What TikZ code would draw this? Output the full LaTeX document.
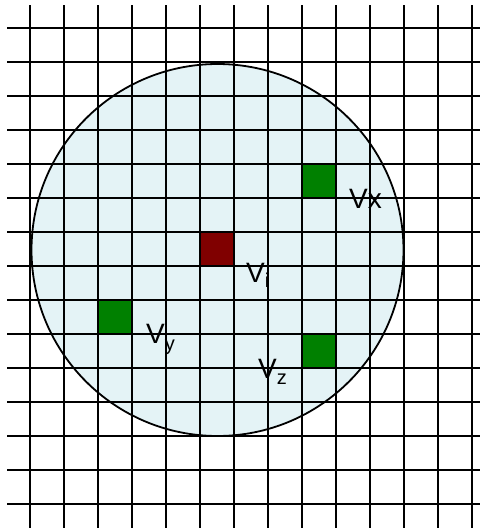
\documentclass[tikz,border=0pt]{standalone}
\usepackage{fontspec}
\setmainfont{Liberation Sans}
\definecolor{cellfill}{RGB}{228,243,246}
\definecolor{darkred}{RGB}{128,0,0}
\definecolor{darkgreen}{RGB}{0,128,0}
\begin{document}
\begin{tikzpicture}[x=1pt,y=-1pt,
  gridline/.style={line width=1.8pt,black},
  cell/.style={draw=none,inner sep=0pt,minimum size=34pt},
  lbl/.style={anchor=base west,inner sep=0pt,font=\fontsize{28}{28}\selectfont}]
\useasboundingbox (0,0) rectangle (480,528);
\fill[white] (0,0) rectangle (480,528);
% circle region
\fill[cellfill] (217.5,250) circle[radius=186];
% cells
\node[cell,fill=darkred] (vi) at (217,249) {};
\node[cell,fill=darkgreen] (vx) at (319,181) {};
\node[cell,fill=darkgreen] (vy) at (115,317) {};
\node[cell,fill=darkgreen] (vz) at (319,351) {};
% grid
\foreach \k in {0,...,13} {
  \draw[gridline] (30+34*\k,5) -- (30+34*\k,528);
}
\foreach \k in {0,...,14} {
  \draw[gridline] (7,28+34*\k) -- (480,28+34*\k);
}
% circle outline
\draw[line width=1.8pt] (217.5,250) circle[radius=186];
% labels
\node[lbl] (lx) at (349,208) {Vx};
\node[lbl] (li) at (246,282) {V\raisebox{-5pt}{\fontsize{20}{20}\selectfont i}};
\node[lbl] (ly) at (146,343) {V\raisebox{-7pt}{\fontsize{20}{20}\selectfont y}};
\node[lbl] (lz) at (258,378) {V\raisebox{-6pt}{\fontsize{20}{20}\selectfont z}};
\end{tikzpicture}
\end{document}
